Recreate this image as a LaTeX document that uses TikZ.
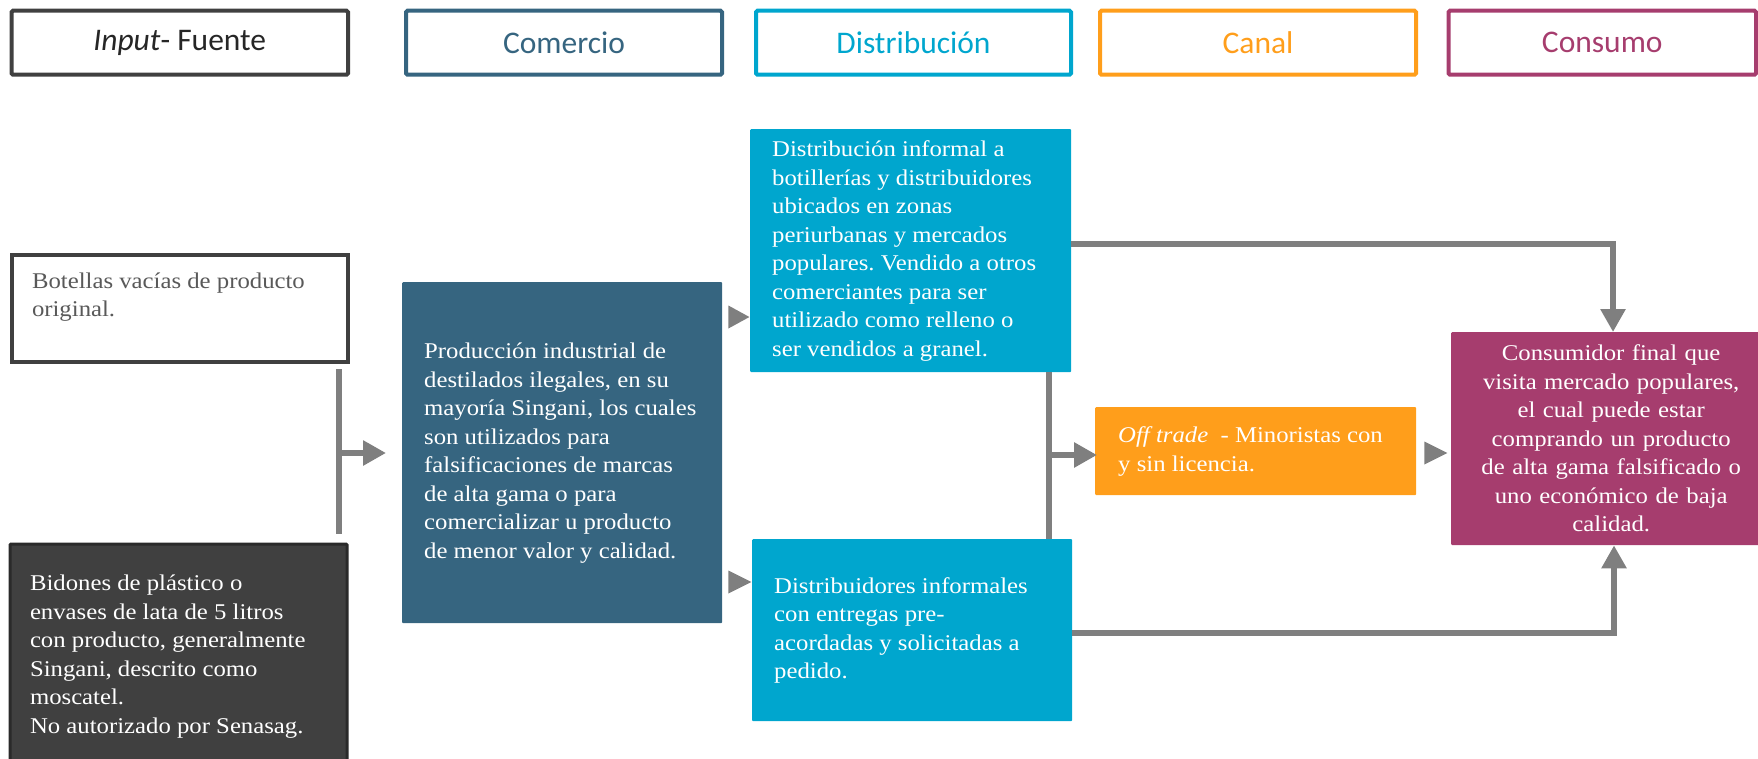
\documentclass[tikz,border=0pt]{standalone}
\usepackage{fontspec}
\setmainfont{Liberation Serif}[FakeStretch=1.1]
\newfontfamily\headfont{Carlito}
\usetikzlibrary{arrows.meta,calc}
\definecolor{ingray}{HTML}{404040}
\definecolor{intext}{HTML}{262626}
\definecolor{bottext}{HTML}{595959}
\definecolor{darkfill}{HTML}{404040}
\definecolor{darkedge}{HTML}{2A2A2A}
\definecolor{comblue}{HTML}{366580}
\definecolor{distblue}{HTML}{00A6CE}
\definecolor{canorange}{HTML}{FF9E1B}
\definecolor{conpurple}{HTML}{A63D6E}
\definecolor{arrgray}{HTML}{7F7F7F}
\frenchspacing
\newcommand\leftlines[2]{\makebox[#1][l]{\begin{tabular}{@{}l@{}}#2\end{tabular}}}
\begin{document}
\begin{tikzpicture}[x=1pt,y=-1pt,
  header/.style={draw=#1, line width=4pt, text=#1, anchor=north west, inner sep=0pt,
    minimum height=64pt, rounded corners=1.5pt,
    font=\headfont\fontsize{31.5}{36}\selectfont},
  bodyfont/.style={font=\fontsize{22.5}{28.5}\selectfont},
  fillbox/.style={fill=#1, draw=none, anchor=north west, inner sep=0pt, text=white,
    bodyfont, rounded corners=1pt},
  conn/.style={draw=arrgray, line width=6pt, line join=miter},
  tip/.style={-{Triangle[length=23pt,width=24pt]}},
]
\useasboundingbox (0,0) rectangle (1758,758);

% headers
\node[header=ingray, text=intext, minimum width=336.5pt] (hin) at (9.5,8.7) {\textit{Input}- Fuente};
\node[header=comblue, minimum width=316pt] (hcom) at (404,8.7) {Comercio};
\node[header=distblue, minimum width=315pt] (hdist) at (754,8.7) {Distribución};
\node[header=canorange, minimum width=316pt] (hcan) at (1098,8.7) {Canal};
\node[header=conpurple, minimum width=307.5pt] (hcons) at (1446.5,8.7) {Consumo};

% input column
\node[draw=ingray, line width=4pt, fill=white, anchor=north west, inner sep=0pt,
  minimum width=336.5pt, minimum height=107pt, text=bottext, bodyfont] (bot) at (9.5,253)
  {\parbox[c][80pt][t]{295.5pt}{\leftlines{295.5pt}{Botellas vacías de producto\\original.}}};
\node[fillbox=darkfill, draw=darkedge, line width=3pt, minimum width=337pt, minimum height=225pt] (dark) at (8.5,542.5)
  {\leftlines{297pt}{Bidones de plástico o\\envases de lata de 5 litros\\con producto, generalmente\\Singani, descrito como\\moscatel.\\No autorizado por Senasag.}};

% comercio
\node[fillbox=comblue, minimum width=320pt, minimum height=341pt] (prod) at (402,282)
  {\leftlines{276pt}{Producción industrial de\\destilados ilegales, en su\\mayoría Singani, los cuales\\son utilizados para\\falsificaciones de marcas\\de alta gama o para\\comercializar u producto\\de menor valor y calidad.}};

% distribucion
\node[fillbox=distblue, minimum width=321pt, minimum height=243pt] (dtop) at (750,129)
  {\leftlines{277pt}{Distribución informal a\\botillerías y distribuidores\\ubicados en zonas\\periurbanas y mercados\\populares. Vendido a otros\\comerciantes para ser\\utilizado como relleno o\\ser vendidos a granel.}};
\node[fillbox=distblue, minimum width=320pt, minimum height=182pt] (dbot) at (752,539)
  {\leftlines{276pt}{Distribuidores informales\\con entregas pre-\\acordadas y solicitadas a\\pedido.}};

% canal
\node[fillbox=canorange, minimum width=321pt, minimum height=88pt] (off) at (1095,407)
  {\leftlines{275pt}{\textit{Off trade}\ \ - Minoristas con\\y sin licencia.}};

% consumo
\node[fillbox=conpurple, minimum width=320pt, minimum height=213pt, text width=310pt, align=center] (cons) at (1451,332)
  {Consumidor final que\\visita mercado populares,\\el cual puede estar\\comprando un producto\\de alta gama falsificado o\\uno económico de baja\\calidad.};

% connectors: input join
\coordinate (injx) at (339,453);
\draw[conn] ([yshift=-5pt]bot.south -| injx) -- ([yshift=9pt]dark.north -| injx);
\draw[conn,tip] (injx) -- ([xshift=-16pt]prod.west |- injx);

% gap triangles
\fill[arrgray] ($(prod.east |- 0,317)+(6,-11.5)$) -- ++(21,11.5) -- ++(-21,11.5) -- cycle;
\fill[arrgray] ($(prod.east |- 0,582)+(6,-11.5)$) -- ++(23,11.5) -- ++(-23,11.5) -- cycle;
\fill[arrgray] ($(off.east |- 0,453)+(8,-11.5)$) -- ++(23,11.5) -- ++(-23,11.5) -- cycle;

% distribution join
\coordinate (dvx) at (1049,455);
\draw[conn] (dtop.south -| dvx) -- (dbot.north -| dvx);
\draw[conn,tip] ([xshift=-3pt]dvx) -- ([xshift=2pt]off.west |- dvx);

% to consumer
\coordinate (tr) at (1613,244);
\coordinate (br) at (1614,633);
\draw[conn,tip] (dtop.east |- tr) -- (tr) -- (tr |- cons.north);
\draw[conn,tip] (dbot.east |- br) -- (br) -- (br |- cons.south);
\end{tikzpicture}
\end{document}
